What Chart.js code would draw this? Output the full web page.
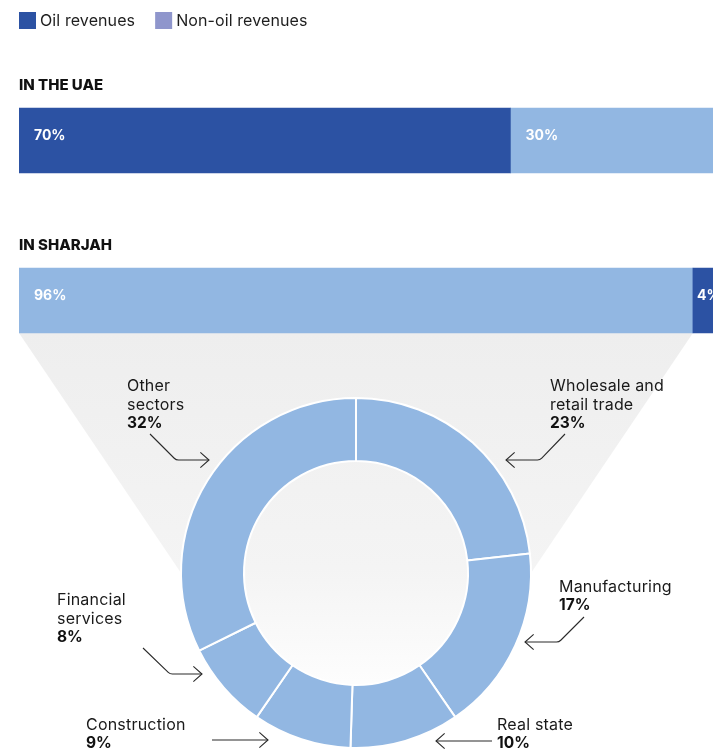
<!DOCTYPE html>
<html>
<head>
<meta charset="utf-8">
<script src="https://cdn.jsdelivr.net/npm/chart.js@4"></script>
<style>
  html, body { margin: 0; padding: 0; background: #fff; overflow: hidden; }
  #wrap { position: relative; width: 713px; height: 751px; overflow: hidden; }
  canvas { position: absolute; left: 0; top: 0; }
</style>
</head>
<body>
<div id="wrap">
  <canvas id="sectors" width="713" height="751"></canvas>
  <canvas id="shares" width="740" height="400"></canvas>
</div>
<script>
// Revenue split by region (percent)
const regions = ['IN THE UAE', 'IN SHARJAH'];
const seriesNames = ['Oil revenues', 'Non-oil revenues'];
const oilShare = [70, 4];
const nonOilShare = [30, 96];
const oilFirst = [true, false];

// Non-oil sectors in Sharjah (percent), clockwise from the top
const sectorLines = [
  ['Wholesale and', 'retail trade'],
  ['Manufacturing'],
  ['Real state'],
  ['Construction'],
  ['Financial', 'services'],
  ['Other', 'sectors']
];
const sectorShare = [23, 17, 10, 9, 8, 32];

const OIL = '#2c52a3';
const NON_OIL = '#92b7e2';
const LEGEND_SWATCH = ['#2c52a3', '#8f96cc'];
const FONT = 'Inter, "Open Sans", sans-serif';

// floating ranges so each region keeps its own segment order
const oilRanges = oilShare.map((v, i) => oilFirst[i] ? [0, v] : [nonOilShare[i], nonOilShare[i] + v]);
const nonOilRanges = nonOilShare.map((v, i) => oilFirst[i] ? [oilShare[i], oilShare[i] + v] : [0, v]);

const barDecor = {
  id: 'barDecor',
  afterDraw(chart) {
    const ctx = chart.ctx;
    ctx.save();
    // legend
    ctx.font = '400 16px ' + FONT;
    ctx.letterSpacing = '0.1px';
    ctx.textBaseline = 'middle';
    ctx.textAlign = 'left';
    let x = chart.chartArea.left;
    seriesNames.forEach((name, i) => {
      ctx.fillStyle = LEGEND_SWATCH[i];
      ctx.fillRect(x, 12, 17, 17);
      ctx.fillStyle = '#1e1e1e';
      ctx.fillText(name, x + 21, 21);
      x += 21 + ctx.measureText(name).width + 20;
    });
    // region headings
    const meta0 = chart.getDatasetMeta(0);
    ctx.font = '800 15px ' + FONT;
    ctx.letterSpacing = '0px';
    ctx.fillStyle = '#111';
    regions.forEach((r, i) => {
      const el = meta0.data[i];
      ctx.fillText(r, chart.chartArea.left, el.y - el.height / 2 - 22.5);
    });
    // value labels inside the bars
    ctx.font = '700 14px ' + FONT;
    ctx.fillStyle = '#fff';
    chart.data.datasets.forEach((ds, di) => {
      chart.getDatasetMeta(di).data.forEach((el, i) => {
        const [a, b] = ds.data[i];
        const left = Math.min(el.x, el.base);
        const w = Math.abs(el.x - el.base);
        ctx.fillText((b - a) + '%', left + Math.min(15, w / 7), el.y - 4.5);
      });
    });
    ctx.restore();
  }
};

const barChart = new Chart(document.getElementById('shares'), {
  type: 'bar',
  data: {
    labels: regions,
    datasets: [
      { label: seriesNames[0], data: oilRanges, backgroundColor: OIL },
      { label: seriesNames[1], data: nonOilRanges, backgroundColor: NON_OIL }
    ]
  },
  options: {
    indexAxis: 'y',
    responsive: false,
    animation: false,
    events: [],
    layout: { padding: { left: 19, right: 19, top: 60.5, bottom: 19.5 } },
    datasets: { bar: { grouped: false, barThickness: 65, borderWidth: 0 } },
    scales: {
      x: { display: false, min: 0, max: 100 },
      y: { display: false }
    },
    plugins: { legend: { display: false }, tooltip: { enabled: false } }
  },
  plugins: [barDecor]
});

// Callout placement for each sector label: text anchor and leader path
const callouts = [
  { tx: 550, ty: 386, path: [[565, 434], [540, 460], [506, 460]] },
  { tx: 559, ty: 587, path: [[584, 617], [559, 642], [525, 642]] },
  { tx: 497, ty: 725, path: [[492, 741], [436, 741]] },
  { tx: 86,  ty: 725, path: [[212, 740], [268, 740]] },
  { tx: 57,  ty: 600, path: [[143, 648], [170, 674], [202, 674]] },
  { tx: 127, ty: 386, path: [[150, 434], [176, 460], [209, 460]] }
];

function grayFade(ctx) {
  const g = ctx.createLinearGradient(0, 333, 0, 695);
  g.addColorStop(0, '#eeeeee');
  g.addColorStop(0.65, '#f4f4f4');
  g.addColorStop(1, '#fefefe');
  return g;
}

const funnel = {
  id: 'funnel',
  beforeDatasetsDraw(chart) {
    const ctx = chart.ctx;
    const arc = chart.getDatasetMeta(0).data[0];
    const cx = arc.x, cy = arc.y, R = arc.outerRadius, r = arc.innerRadius;
    const src = barChart.getDatasetMeta(1).data[1];
    const topY = src.y + src.height / 2;
    const l = Math.min(src.x, src.base), rr = Math.max(src.x, src.base);
    ctx.save();
    ctx.fillStyle = grayFade(ctx);
    ctx.beginPath();
    ctx.moveTo(l, topY);
    ctx.lineTo(rr, topY);
    ctx.lineTo(cx + R, cy);
    ctx.lineTo(cx - R, cy);
    ctx.closePath();
    ctx.fill();
    ctx.beginPath();
    ctx.arc(cx, cy, r, 0, Math.PI * 2);
    ctx.fill();
    ctx.restore();
  }
};

function drawArrow(ctx, pts) {
  ctx.beginPath();
  ctx.moveTo(pts[0][0], pts[0][1]);
  for (let i = 1; i < pts.length - 1; i++) {
    ctx.arcTo(pts[i][0], pts[i][1], pts[i + 1][0], pts[i + 1][1], 6);
  }
  const end = pts[pts.length - 1], prev = pts[pts.length - 2];
  ctx.lineTo(end[0], end[1]);
  ctx.stroke();
  const ang = Math.atan2(end[1] - prev[1], end[0] - prev[0]);
  const len = 11.5, spread = 0.72;
  ctx.beginPath();
  ctx.moveTo(end[0] - len * Math.cos(ang - spread), end[1] - len * Math.sin(ang - spread));
  ctx.lineTo(end[0], end[1]);
  ctx.lineTo(end[0] - len * Math.cos(ang + spread), end[1] - len * Math.sin(ang + spread));
  ctx.stroke();
}

const sectorCallouts = {
  id: 'sectorCallouts',
  afterDraw(chart) {
    const ctx = chart.ctx;
    const values = chart.data.datasets[0].data;
    ctx.save();
    ctx.textBaseline = 'middle';
    ctx.textAlign = 'left';
    ctx.strokeStyle = '#2a2a2a';
    ctx.lineWidth = 1.1;
    callouts.forEach((c, i) => {
      const lines = sectorLines[i];
      ctx.fillStyle = '#1a1a1a';
      ctx.font = '400 16px ' + FONT;
      ctx.letterSpacing = '0.2px';
      lines.forEach((t, k) => ctx.fillText(t, c.tx, c.ty + k * 18.7));
      ctx.font = '700 15.5px ' + FONT;
      ctx.letterSpacing = '0px';
      ctx.fillStyle = '#111';
      ctx.fillText(values[i] + '%', c.tx, c.ty + lines.length * 18.7);
      drawArrow(ctx, c.path);
    });
    ctx.restore();
  }
};

new Chart(document.getElementById('sectors'), {
  type: 'doughnut',
  data: {
    labels: sectorLines.map(l => l.join(' ')),
    datasets: [{
      data: sectorShare,
      backgroundColor: NON_OIL,
      borderColor: '#ffffff',
      borderWidth: 2,
      hoverOffset: 0
    }]
  },
  options: {
    responsive: false,
    animation: false,
    events: [],
    cutout: '64%',
    layout: { padding: { left: 180, right: 181, top: 397, bottom: 2 } },
    plugins: { legend: { display: false }, tooltip: { enabled: false } }
  },
  plugins: [funnel, sectorCallouts]
});
</script>
</body>
</html>
